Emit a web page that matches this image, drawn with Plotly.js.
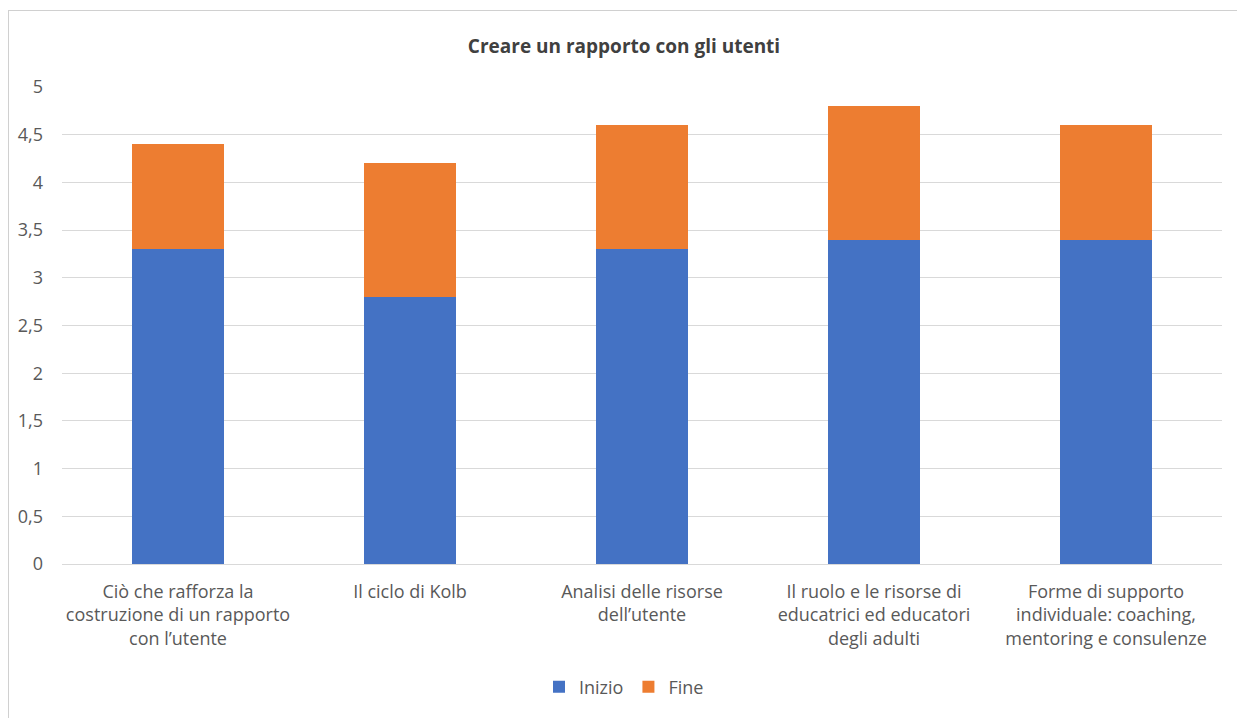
<!DOCTYPE html>
<html>
<head>
<meta charset="utf-8">
<script src="https://cdn.plot.ly/plotly-3.0.1.min.js"></script>
<style>
html,body{margin:0;padding:0;background:#fff;}
#wrap{position:relative;width:1237px;height:718px;}
#chart{position:absolute;left:0;top:0;width:1237px;height:718px;}
#frame{position:absolute;left:8px;top:10px;width:1240px;height:720px;border:1px solid #d0d0d0;pointer-events:none;}
</style>
</head>
<body>
<div id="wrap">
<div id="chart"></div>
<div id="frame"></div>
</div>
<script>
const categories = [
  "Ciò che rafforza la<br>costruzione di un rapporto<br>con l’utente",
  "Il ciclo di Kolb",
  "Analisi delle risorse<br>dell’utente",
  "Il ruolo e le risorse di<br>educatrici ed educatori<br>degli adulti",
  "Forme di supporto<br>individuale: coaching,<br>mentoring e consulenze"
];
const inizio = [3.3, 2.8, 3.3, 3.4, 3.4];
const fine = [1.1, 1.4, 1.3, 1.4, 1.2];
const yTickVals = [0, 0.5, 1, 1.5, 2, 2.5, 3, 3.5, 4, 4.5, 5];
const yTickText = ["0", "0,5", "1", "1,5", "2", "2,5", "3", "3,5", "4", "4,5", "5"];

const font = "Open Sans, Noto Sans, Liberation Sans, sans-serif";
const traces = [
  {type: "bar", name: "Inizio", x: categories, y: inizio, marker: {color: "#4472C4"}, hoverinfo: "y"},
  {type: "bar", name: "Fine", x: categories, y: fine, marker: {color: "#ED7D31"}, hoverinfo: "y"}
];
const layout = {
  width: 1237, height: 718,
  barmode: "stack",
  bargap: 0.6,
  paper_bgcolor: "#fff", plot_bgcolor: "#fff",
  margin: {l: 62, r: 15, t: 87, b: 154},
  font: {family: font, color: "#595959", size: 18},
  title: {text: "<b>Creare un rapporto con gli utenti</b>", font: {family: font, size: 19, color: "#404040"},
          x: 624/1237, xref: "container", y: 1 - 46/718, yref: "container", yanchor: "middle"},
  xaxis: {type: "category", showgrid: false, showline: false, zeroline: false, ticks: "",
          tickfont: {family: font, size: 18, color: "#595959"}, ticklabelstandoff: 15, automargin: false},
  yaxis: {range: [0, 5], tickvals: yTickVals, ticktext: yTickText, showgrid: true, gridcolor: "#d9d9d9",
          gridwidth: 1, zeroline: true, zerolinecolor: "#d9d9d9", showline: false, ticks: "",
          tickfont: {family: font, size: 18, color: "#595959"}, ticklabelstandoff: 18, automargin: false},
  legend: {orientation: "h", xref: "container", x: 624/1237, xanchor: "center", yref: "container",
           y: 1 - 687/718, yanchor: "middle", font: {family: font, size: 18, color: "#595959"},
           traceorder: "normal", itemwidth: 30},
  showlegend: true
};
Plotly.newPlot("chart", traces, layout, {displayModeBar: false, staticPlot: true});
</script>
</body>
</html>
